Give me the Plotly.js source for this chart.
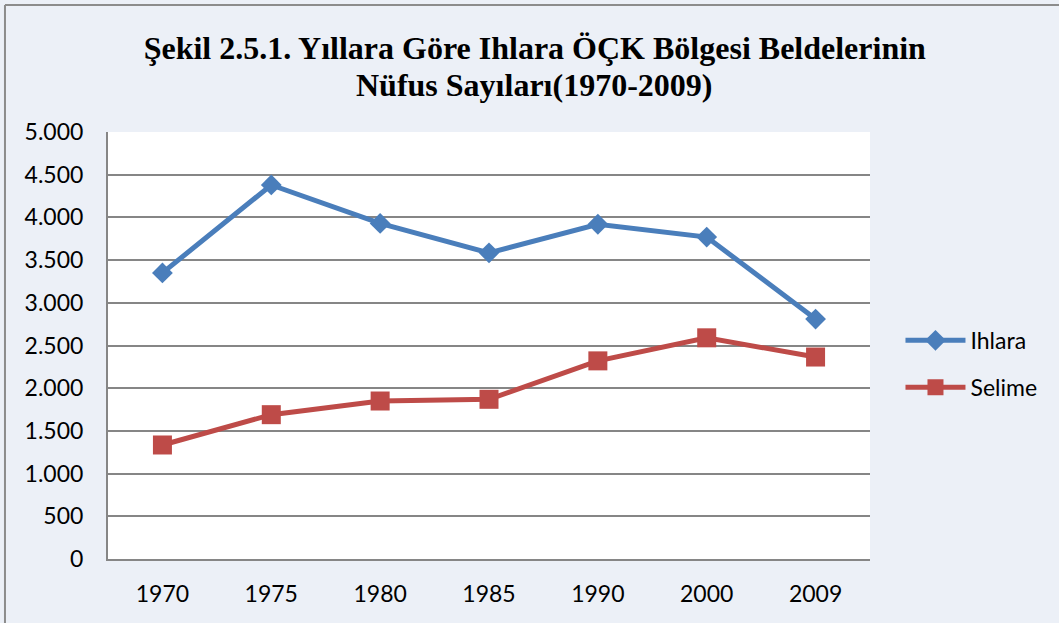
<!DOCTYPE html>
<html>
<head>
<meta charset="utf-8">
<script src="https://cdn.plot.ly/plotly-3.0.1.min.js"></script>
<style>
  body { margin: 0; background: #ECF0F7; }
  #plot { width: 1059px; height: 623px; }
</style>
</head>
<body>
<div id="plot"></div>
<script>
// Nüfus verileri
var years = ["1970", "1975", "1980", "1985", "1990", "2000", "2009"];
var ihlara = [3350, 4380, 3930, 3585, 3920, 3770, 2810];
var selime = [1335, 1690, 1850, 1870, 2320, 2590, 2365];
var yTicks = [0, 500, 1000, 1500, 2000, 2500, 3000, 3500, 4000, 4500, 5000];
var yTickText = ["0", "500", "1.000", "1.500", "2.000", "2.500", "3.000", "3.500", "4.000", "4.500", "5.000"];

var titleFont = { family: "'Liberation Serif', 'Times New Roman', serif", size: 32, color: "#000000" };

var trace1 = {
  x: years,
  y: ihlara,
  name: "Ihlara",
  legendgroup: "a",
  type: "scatter",
  mode: "lines+markers",
  line: { color: "#4A7EBB", width: 5 },
  marker: { symbol: "diamond", size: 16, color: "#4A7EBB" }
};
var trace2 = {
  x: years,
  y: selime,
  name: "Selime",
  legendgroup: "b",
  type: "scatter",
  mode: "lines+markers",
  line: { color: "#BE4B48", width: 5 },
  marker: { symbol: "square", size: 19, color: "#BE4B48" }
};

var layout = {
  width: 1059,
  height: 623,
  margin: { l: 108, r: 189, t: 132, b: 64 },
  paper_bgcolor: "#ECF0F7",
  plot_bgcolor: "#FFFFFF",
  font: { family: "Lato, 'Open Sans', sans-serif", size: 23, color: "#000000" },
  title: {
    text: "<b>Şekil 2.5.1. Yıllara Göre Ihlara ÖÇK Bölgesi Beldelerinin</b>",
    font: titleFont,
    xref: "container",
    x: 0.505,
    xanchor: "center",
    yref: "container",
    y: 0.923,
    yanchor: "middle"
  },
  annotations: [
    { text: "<b>Nüfus Sayıları(1970-2009)</b>", font: titleFont, showarrow: false,
      xref: "paper", yref: "paper", x: 0.559, y: 1.110, xanchor: "center", yanchor: "middle" }
  ],
  xaxis: {
    type: "category",
    range: [-0.5, 6.5],
    showgrid: false,
    showline: true,
    linecolor: "#868686",
    linewidth: 2,
    ticks: "outside",
    ticklen: 13,
    tickcolor: "rgba(0,0,0,0)"
  },
  yaxis: {
    range: [0, 5000],
    tickvals: yTicks,
    ticktext: yTickText,
    showgrid: true,
    gridcolor: "#868686",
    gridwidth: 1.5,
    showline: true,
    linecolor: "#868686",
    linewidth: 2,
    zeroline: false,
    ticks: "outside",
    ticklen: 18,
    tickcolor: "rgba(0,0,0,0)"
  },
  legend: {
    x: 1.04,
    xanchor: "left",
    y: 0.457,
    yanchor: "middle",
    bgcolor: "rgba(0,0,0,0)",
    tracegroupgap: 14,
    itemwidth: 60
  },
  shapes: [
    { type: "line", xref: "paper", yref: "paper", x0: -0.1352, x1: -0.1352, y0: -0.2, y1: 1.2974,
      line: { color: "#8C8C8C", width: 2 } },
    { type: "line", xref: "paper", yref: "paper", x0: -0.1352, x1: 1.3, y0: 1.2974, y1: 1.2974,
      line: { color: "#8C8C8C", width: 2 } }
  ],
  showlegend: true
};

Plotly.newPlot("plot", [trace1, trace2], layout, { displayModeBar: false });
</script>
</body>
</html>
